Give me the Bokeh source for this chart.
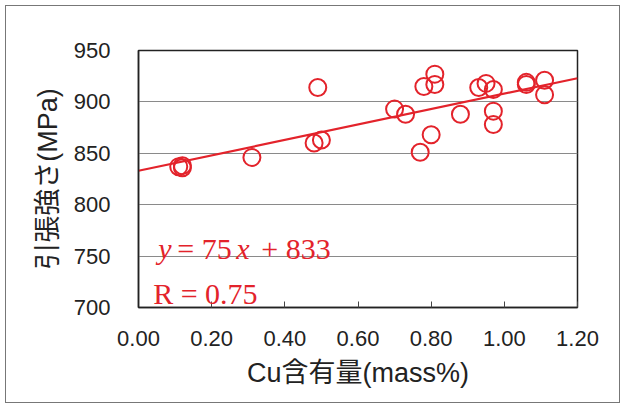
from bokeh.plotting import figure
from bokeh.models import Label, FixedTicker, NumeralTickFormatter, Range1d
from bokeh.embed import file_html
from bokeh.resources import INLINE

# Data
cu_content = [0.11, 0.12, 0.12, 0.31, 0.48, 0.50, 0.49, 0.70, 0.73, 0.77, 0.80, 0.78,
              0.81, 0.81, 0.88, 0.93, 0.95, 0.97, 0.97, 0.97, 1.06, 1.06, 1.11, 1.11]
tensile = [837, 836, 838, 846, 860, 863, 914, 893, 888, 851, 868, 915,
           927, 917, 888, 914, 918, 912, 891, 878, 919, 917, 921, 907]

slope = 75
intercept = 833
r_value = 0.75
fit_x = [0.0, 1.2]
fit_y = [intercept + slope * v for v in fit_x]

x_ticks = [0.0, 0.2, 0.4, 0.6, 0.8, 1.0, 1.2]
y_ticks = [700, 750, 800, 850, 900, 950]

RED = "#e3232b"
LATIN = "Liberation Sans"
SERIF = "Liberation Serif"
LABEL_FONT = "Liberation Sans, Noto Sans CJK JP"

p = figure(width=625, height=408, output_backend="svg", toolbar_location=None,
           x_range=Range1d(0, 1.2), y_range=Range1d(700, 950),
           min_border_left=138, min_border_right=48, min_border_top=50,
           min_border_bottom=101)
p.border_fill_color = None
p.background_fill_color = "white"
p.styles = {"outline": "1.5px solid #777", "outline-offset": "-6px",
            "background-color": "white"}

p.outline_line_color = "#222"
p.outline_line_width = 1.5
p.outline_line_alpha = 1

p.xgrid.visible = False
p.ygrid.grid_line_color = "#8a8a8a"
p.ygrid.grid_line_width = 1

p.xaxis.ticker = FixedTicker(ticks=x_ticks)
p.yaxis.ticker = FixedTicker(ticks=y_ticks)
p.xaxis.formatter = NumeralTickFormatter(format="0.00")
p.yaxis.formatter = NumeralTickFormatter(format="0")

for ax in (p.xaxis[0], p.yaxis[0]):
    ax.axis_line_color = "#222"
    ax.axis_line_width = 1.5
    ax.major_tick_line_color = "#444"
    ax.minor_tick_line_color = None
    ax.major_label_text_font = LATIN
    ax.major_label_text_font_size = "22px"
    ax.major_label_text_color = "#222"
    ax.axis_label_text_font = LABEL_FONT
    ax.axis_label_text_font_size = "27px"
    ax.axis_label_text_font_style = "normal"
    ax.axis_label_text_color = "#222"

p.xaxis.major_tick_in = 6
p.xaxis.major_tick_out = 0
p.xaxis.major_label_standoff = 23
p.xaxis.axis_label = "Cu含有量(mass%)"
p.xaxis.axis_label_standoff = 9

p.yaxis.major_tick_in = 0
p.yaxis.major_tick_out = 0
p.yaxis.major_label_standoff = 28
p.yaxis.axis_label = "引張強さ(MPa)"
p.yaxis.axis_label_standoff = 8

p.line(fit_x, fit_y, line_color=RED, line_width=2.2)
p.scatter(cu_content, tensile, marker="circle", size=17, fill_color=None,
          line_color=RED, line_width=2)

eq_x = 0.054
eq_y = 757.4
pieces = [("y", 0, "italic"), ("= 75", 19, "normal"), ("x", 78, "italic"), ("+ 833", 103, "normal")]
for txt, off, style in pieces:
    p.add_layout(Label(x=eq_x, y=eq_y, x_offset=off, text=txt, text_font=SERIF,
                       text_font_size="30px", text_font_style=style, text_color=RED,
                       text_baseline="alphabetic"))
p.add_layout(Label(x=0.040, y=713.6, text=f"R = {r_value:.2f}", text_font=SERIF,
                   text_font_size="30px", text_color=RED, text_baseline="alphabetic"))

open("out.html", "w").write(file_html(p, INLINE))
